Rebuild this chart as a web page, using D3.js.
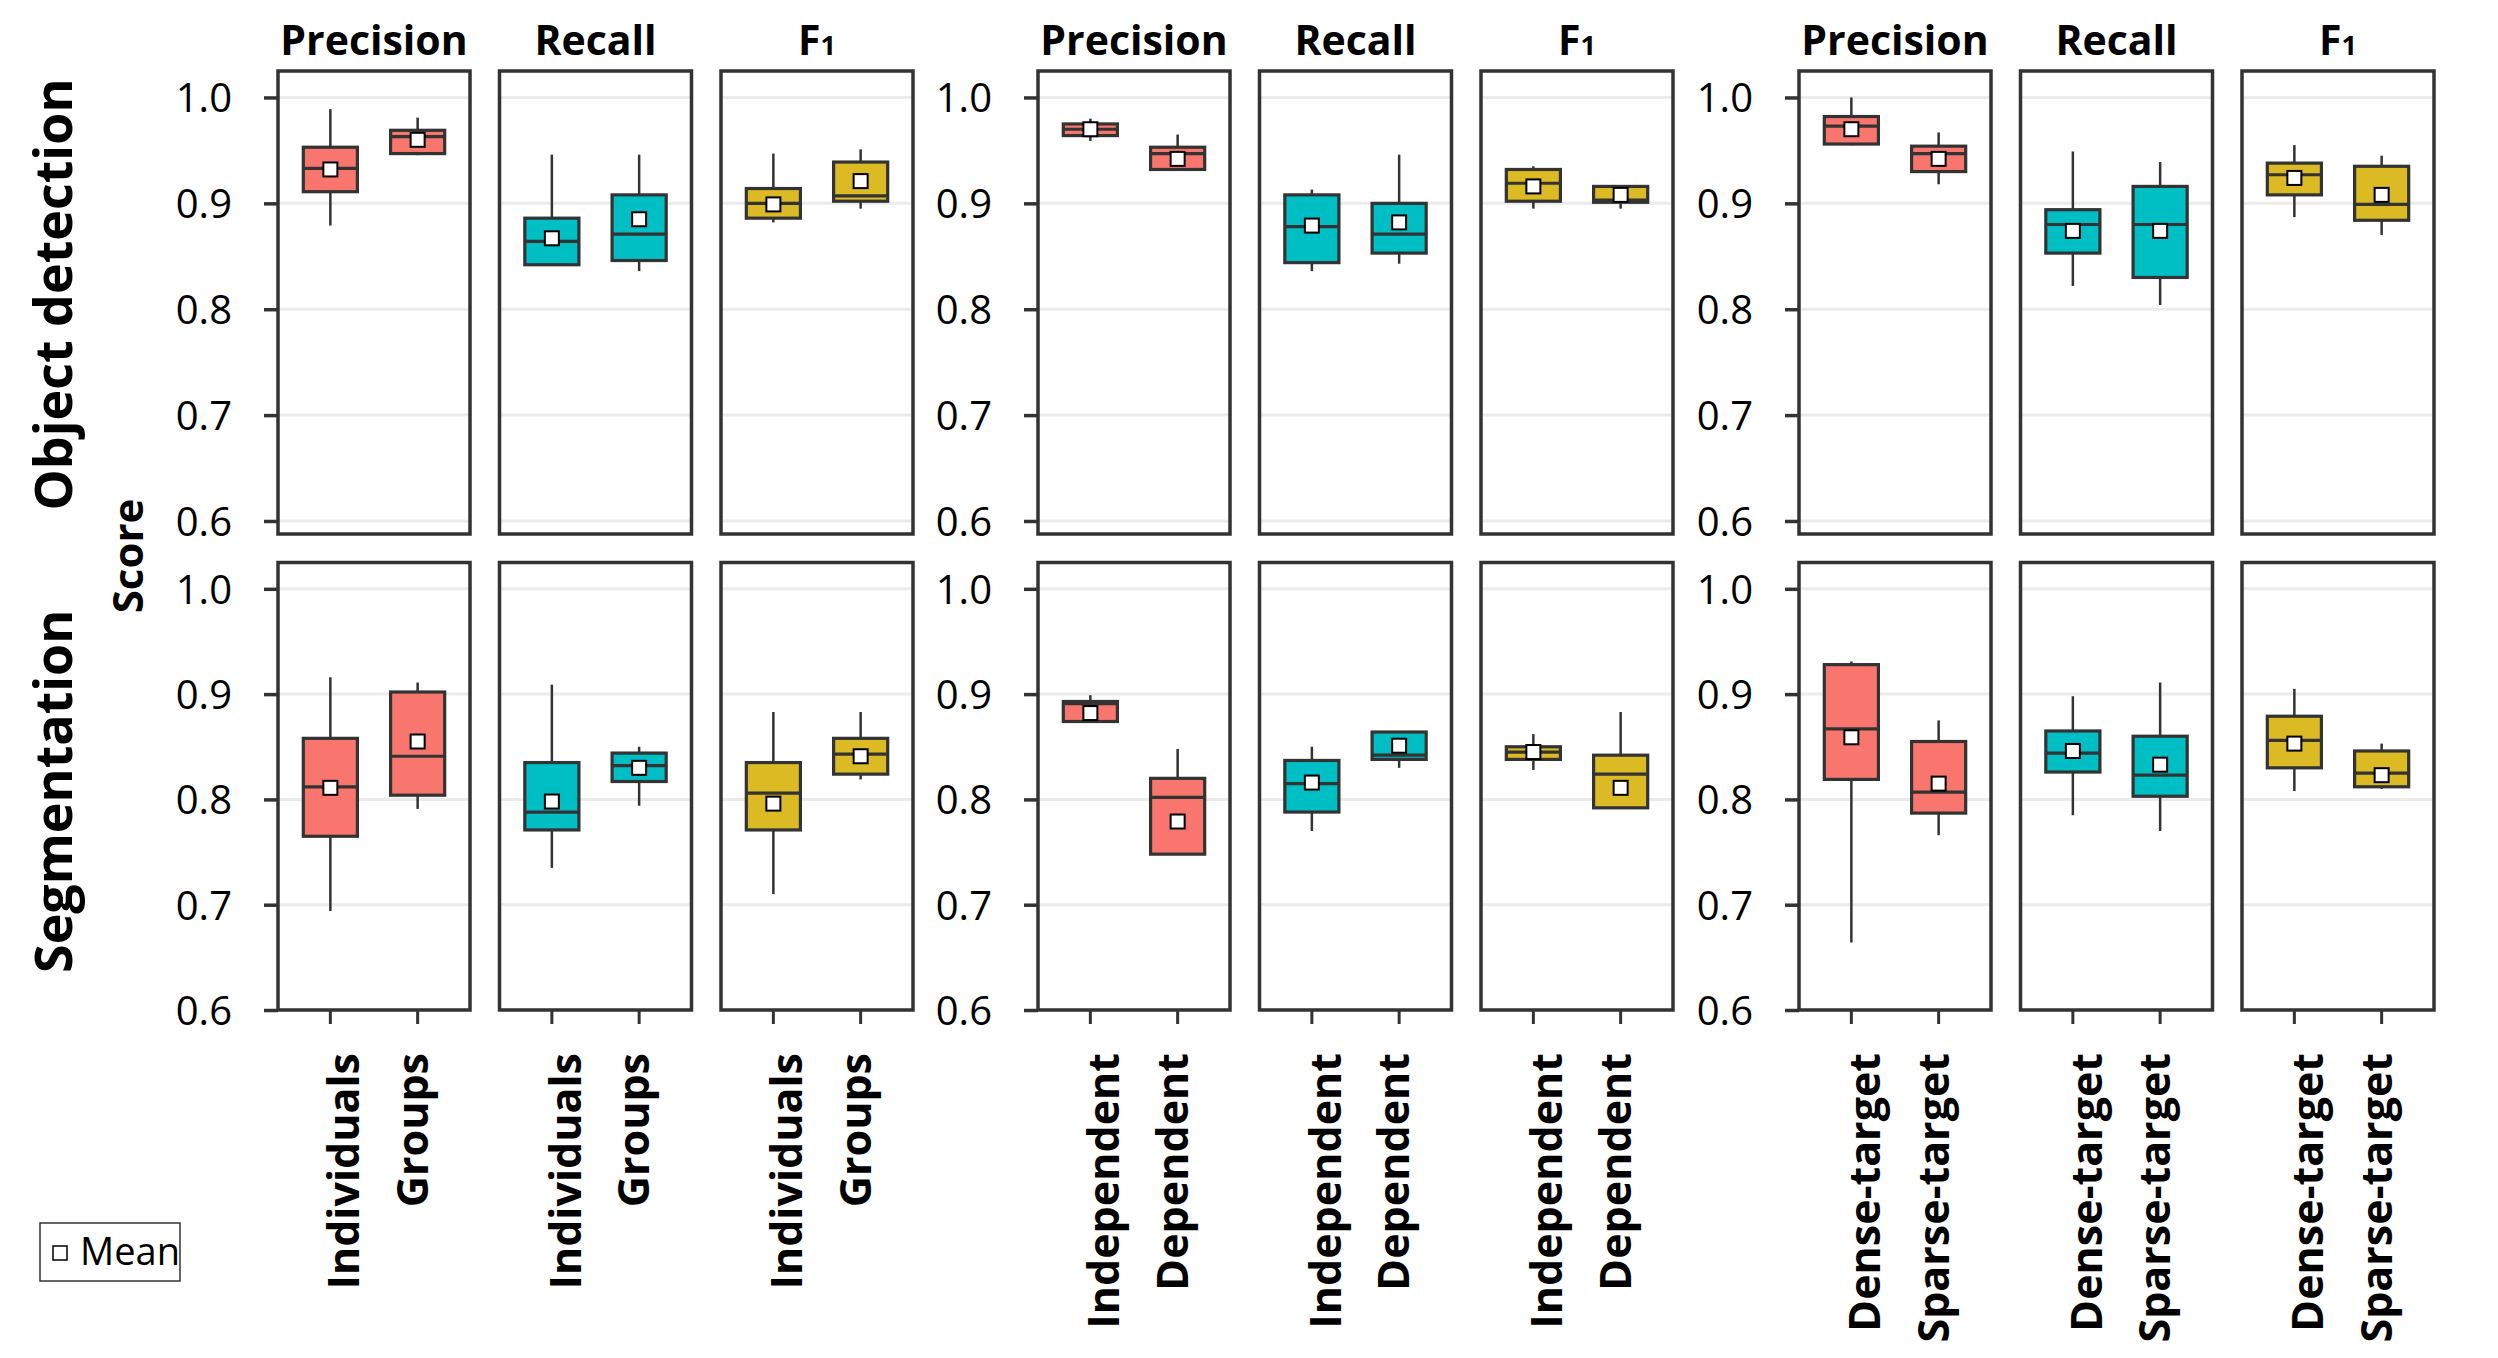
<!DOCTYPE html>
<html>
<head>
<meta charset="utf-8">
<script src="https://cdn.jsdelivr.net/npm/d3@7"></script>
<style>
  body { margin: 0; background: #fff; }
  text { font-family: "Open Sans", "Noto Sans", sans-serif; fill: #000; }
  .tick-label { font-size: 40px; }
  .strip { font-size: 41px; font-weight: bold; }
  .row-title { font-size: 52px; font-weight: bold; }
  .xlab { font-size: 43px; font-weight: bold; }
</style>
</head>
<body>
<div id="chart"></div>
<script>
var width = 2498,
    height = 1358;

var rowTitles = ["Object detection", "Segmentation"];
var metrics = ["Precision", "Recall", "F1"];
var categories = [["Individuals", "Groups"],
                  ["Independent", "Dependent"],
                  ["Dense-target", "Sparse-target"]];
var yTicks = [0.6, 0.7, 0.8, 0.9, 1.0];
var colorrange = ["#F8766D", "#00BFC4", "#DBBA24"];

// each row: [whisker low, q1, median, q3, whisker high, mean]
// order: grouping -> metric -> category
var detection = [
  [0.879, 0.911, 0.933, 0.953, 0.989, 0.932], [0.9455, 0.947, 0.963, 0.969, 0.981, 0.960],
  [0.841, 0.842, 0.864, 0.886, 0.946, 0.867], [0.836, 0.846, 0.871, 0.908, 0.946, 0.885],
  [0.882, 0.886, 0.900, 0.914, 0.947, 0.899], [0.895, 0.902, 0.907, 0.939, 0.951, 0.921],
  [0.959, 0.964, 0.970, 0.975, 0.980, 0.970], [0.932, 0.932, 0.947, 0.953, 0.965, 0.942],
  [0.836, 0.844, 0.878, 0.908, 0.913, 0.879], [0.843, 0.853, 0.871, 0.900, 0.946, 0.882],
  [0.895, 0.902, 0.919, 0.932, 0.935, 0.916], [0.895, 0.901, 0.903, 0.916, 0.917, 0.908],
  [0.955, 0.956, 0.973, 0.982, 1.000, 0.970], [0.918, 0.930, 0.947, 0.954, 0.967, 0.942],
  [0.822, 0.853, 0.880, 0.894, 0.949, 0.874], [0.804, 0.830, 0.880, 0.916, 0.939, 0.874],
  [0.887, 0.908, 0.927, 0.938, 0.955, 0.924], [0.870, 0.884, 0.899, 0.935, 0.945, 0.908]
];

var segmentation = [
  [0.694, 0.765, 0.812, 0.858, 0.916, 0.811], [0.791, 0.804, 0.841, 0.902, 0.911, 0.855],
  [0.735, 0.771, 0.788, 0.835, 0.909, 0.798], [0.794, 0.817, 0.832, 0.844, 0.850, 0.830],
  [0.710, 0.771, 0.806, 0.835, 0.883, 0.796], [0.819, 0.824, 0.843, 0.858, 0.883, 0.841],
  [0.874, 0.874, 0.891, 0.893, 0.899, 0.882], [0.748, 0.748, 0.802, 0.820, 0.848, 0.779],
  [0.770, 0.788, 0.815, 0.837, 0.850, 0.816], [0.830, 0.838, 0.842, 0.864, 0.864, 0.851],
  [0.828, 0.838, 0.845, 0.850, 0.862, 0.845], [0.792, 0.792, 0.824, 0.842, 0.883, 0.811],
  [0.664, 0.819, 0.867, 0.928, 0.931, 0.859], [0.766, 0.787, 0.807, 0.855, 0.875, 0.815],
  [0.785, 0.826, 0.844, 0.865, 0.898, 0.846], [0.770, 0.803, 0.823, 0.860, 0.911, 0.833],
  [0.808, 0.830, 0.856, 0.879, 0.905, 0.853], [0.810, 0.812, 0.825, 0.846, 0.853, 0.823]
];

var rowData = [detection, segmentation];

// layout
var groupX = [278, 1038, 1799],
    panelStep = 221.5,
    panelW = 192;

var rows = [
  { top: 71, bottom: 534, domain: [0.5877, 1.025], titleShift: -8 },
  { top: 562.5, bottom: 1010, domain: [0.6, 1.025], titleShift: 5 }
];

// x label offset from its tick, first and second category
var labelShift = [29, 10];

var dark = "#333333";

var svg = d3.select("#chart")
    .append("svg")
    .attr("width", width)
    .attr("height", height)

var x = d3.scaleLinear().domain([0.4, 2.6]).range([0, panelW]);
var boxW = x(1.62) - x(1);

rows.forEach(function (row, r) {
    var y = d3.scaleLinear().domain(row.domain).range([row.bottom, row.top]);
    var stats = rowData[r];

    groupX.forEach(function (gx, g) {

        // y axis for the first panel of each group
        var yAxis = svg.append("g")
            .attr("transform", "translate(" + gx + ",0)")
            .call(d3.axisLeft(y).tickValues(yTicks).tickFormat(d3.format(".1f")).tickSize(14).tickPadding(32))
        yAxis.select(".domain").remove();
        yAxis.selectAll(".tick line").attr("stroke", dark).attr("stroke-width", 3.5);
        yAxis.selectAll(".tick text")
            .attr("class", "tick-label")
            .attr("dy", "0.36em");
        yAxis.attr("font-family", null).attr("font-size", null);

        metrics.forEach(function (m, k) {
            var px = gx + k * panelStep;
            var panel = svg.append("g").attr("transform", "translate(" + px + ",0)");

            // gridlines
            panel.selectAll(".grid")
                .data(yTicks)
                .enter().append("line")
                .attr("x1", 0)
                .attr("x2", panelW)
                .attr("y1", function (d) { return y(d); })
                .attr("y2", function (d) { return y(d); })
                .attr("stroke", "#EBEBEB")
                .attr("stroke-width", 3);

            categories[g].forEach(function (cat, c) {
                var s = stats[g * 6 + k * 2 + c];
                var cx = x(c + 1);

                // whisker
                panel.append("line")
                    .attr("x1", cx).attr("x2", cx)
                    .attr("y1", y(s[0])).attr("y2", y(s[4]))
                    .attr("stroke", dark)
                    .attr("stroke-width", 2.5);

                panel.append("rect")
                    .attr("x", cx - boxW / 2)
                    .attr("y", y(s[3]))
                    .attr("width", boxW)
                    .attr("height", y(s[1]) - y(s[3]))
                    .style("fill", colorrange[k])
                    .attr("stroke", dark)
                    .attr("stroke-width", 3.2);

                panel.append("line")
                    .attr("x1", cx - boxW / 2).attr("x2", cx + boxW / 2)
                    .attr("y1", y(s[2])).attr("y2", y(s[2]))
                    .attr("stroke", dark)
                    .attr("stroke-width", 3.2);

                // mean marker
                panel.append("rect")
                    .attr("x", cx - 7)
                    .attr("y", y(s[5]) - 7)
                    .attr("width", 14)
                    .attr("height", 14)
                    .attr("fill", "#fff")
                    .attr("stroke", "#000")
                    .attr("stroke-width", 2);

                if (r === 1) {
                    panel.append("line")
                        .attr("x1", cx).attr("x2", cx)
                        .attr("y1", row.bottom).attr("y2", row.bottom + 14)
                        .attr("stroke", dark)
                        .attr("stroke-width", 3);

                    panel.append("text")
                        .attr("class", "xlab")
                        .attr("transform", "translate(" + (cx + labelShift[c]) + "," + (row.bottom + 43) + ") rotate(-90)")
                        .style("text-anchor", "end")
                        .text(cat);
                }
            });

            // panel border
            panel.append("rect")
                .attr("x", 0)
                .attr("y", row.top)
                .attr("width", panelW)
                .attr("height", row.bottom - row.top)
                .attr("fill", "none")
                .attr("stroke", dark)
                .attr("stroke-width", 3.5);

            // strip titles
            if (r === 0) {
                var t = panel.append("text")
                    .attr("class", "strip")
                    .attr("x", panelW / 2)
                    .attr("y", 55)
                    .style("text-anchor", "middle");
                if (m === "F1") {
                    t.append("tspan").text("F");
                    t.append("tspan").style("font-size", "27px").text("1");
                } else {
                    t.text(m);
                }
            }
        });
    });

    svg.append("text")
        .attr("class", "row-title")
        .attr("transform", "translate(72," + ((row.top + row.bottom) / 2 + row.titleShift) + ") rotate(-90)")
        .style("text-anchor", "middle")
        .text(rowTitles[r]);
});

svg.append("text")
    .attr("transform", "translate(143,556) rotate(-90)")
    .style("text-anchor", "middle")
    .style("font-size", "42px")
    .style("font-weight", "bold")
    .text("Score");

// legend
svg.append("rect")
    .attr("x", 40).attr("y", 1223)
    .attr("width", 140).attr("height", 58)
    .attr("fill", "#fff")
    .attr("stroke", dark)
    .attr("stroke-width", 1.5);

svg.append("rect")
    .attr("x", 53).attr("y", 1246)
    .attr("width", 14).attr("height", 14)
    .attr("fill", "#fff")
    .attr("stroke", "#000")
    .attr("stroke-width", 1.5);

svg.append("text")
    .attr("x", 80).attr("y", 1265)
    .style("font-size", "38px")
    .text("Mean");
</script>
</body>
</html>
